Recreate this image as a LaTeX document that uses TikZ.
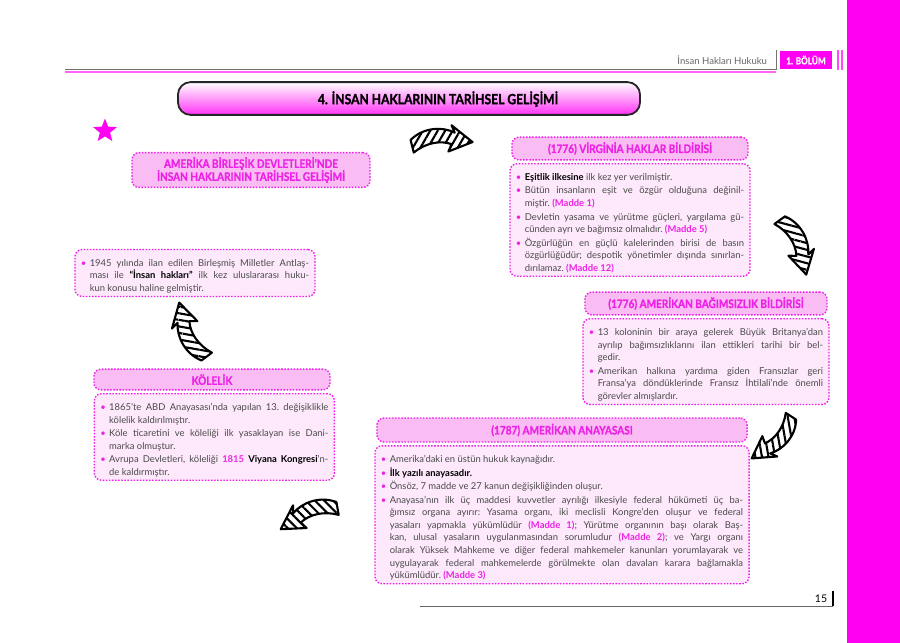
\documentclass[tikz,border=0pt]{standalone}
\usepackage{fontspec}
\setmainfont{Lato}
\newfontfamily\headfont[FakeStretch=0.86,FakeBold=1.2]{Lato}
\usetikzlibrary{positioning,patterns.meta,shapes.geometric}

\definecolor{mag}{HTML}{EE22E6}
\definecolor{magbar}{HTML}{FF00F2}
\definecolor{pinkhead}{HTML}{F9BDF4}
\definecolor{pinkbody}{HTML}{FDE9FB}
\definecolor{bodytext}{HTML}{4A4A4A}

\newcommand{\itm}{\par\noindent\llap{\makebox[0.22cm][l]{\textcolor{mag}{\textbullet}}}}
\newcommand{\mdd}[1]{\textcolor{mag}{\textbf{(Madde #1)}}}
\newcommand{\blk}[1]{\textcolor{black}{\textbf{#1}}}
\newcommand{\bodysetup}{\setlength{\parskip}{0.6pt}\setlength{\leftskip}{0.22cm}\frenchspacing\hyphenpenalty=10000\relax\tolerance=9999\relax}

\tikzset{
	headbox/.style={draw=mag, dash pattern=on 1.1pt off 1.1pt, line width=1pt, fill=pinkhead,
		rounded corners=5pt, text=mag, align=center, inner sep=1pt,
		font=\headfont\fontsize{8.3}{9.2}\selectfont\bfseries},
	bodybox/.style={draw=mag, dash pattern=on 1.1pt off 1.1pt, line width=1pt, fill=pinkbody,
		rounded corners=5pt, text=bodytext, align=justify, inner xsep=0.15cm, inner ysep=0.08cm,
		font=\fontsize{6.7}{9}\selectfont},
	hatcharrow/.pic={
		\draw[line width=1.5pt, line join=round, pattern={Lines[angle=#1,distance=4.6pt,line width=1.5pt]}]
		(-28,1) .. controls (-16,13) and (2,14) .. (14,8) -- (11,15) -- (31,-1) -- (8,-10) -- (11,-3)
		.. controls (0,1) and (-14,-2) .. (-25,-11) -- cycle;
	}
}

\begin{document}
\begin{tikzpicture}[x=0.025cm, y=0.025cm]

		\useasboundingbox (0,0) rectangle (900,-643);
		\fill[white] (0,0) rectangle (900,-643);
		\fill[magbar] (847,0) rectangle (900,-643);

		\draw[black!55, line width=0.5pt] (65,-69) -- (776,-69) -- (776,-50);
		\draw[magbar!60, line width=1pt] (65,-72) -- (776,-72);
		\draw[magbar!70, line width=1pt] (838,-50) -- (838,-70);
		\draw[magbar!70, line width=1pt] (842,-50) -- (842,-70);
		\node (pageHead) at (772,-60) [anchor=east, text=black!60, font=\fontsize{6.8}{8}\selectfont] {İnsan Hakları Hukuku};
		\node (bolum) at (806,-60) [fill=magbar, text=white, minimum width=1.3cm, minimum height=0.44cm,
		inner sep=0pt, font=\headfont\fontsize{6.8}{8}\selectfont\bfseries] {1. BÖLÜM};

		\node (titleBox) at (409,-98.5) [draw=black!85, line width=1.3pt, rounded corners=9pt,
		top color=white, bottom color=magbar!80, minimum width=11.55cm, minimum height=0.82cm] {};
		\node (title) at (438,-99) [font=\headfont\fontsize{10}{12}\selectfont\bfseries] {4. İNSAN HAKLARININ TARİHSEL GELİŞİMİ};

		\node (star) at (105,-131) [star, star points=5, star point ratio=2.3, fill=magbar, minimum size=0.62cm, inner sep=0pt] {};

		\node (usaTitle) at (251,-170) [headbox, minimum width=5.95cm, minimum height=0.87cm]
		{AMERİKA BİRLEŞİK DEVLETLERİ’NDE\\İNSAN HAKLARININ TARİHSEL GELİŞİMİ};

		\node (un1945) at (195,-273) [bodybox, text width=5.7cm] {\bodysetup
		\itm 1945 yılında ilan edilen Birleşmiş Milletler Antlaş-\linebreak ması ile \blk{“İnsan hakları”} ilk kez uluslararası huku-\linebreak kun konusu haline gelmiştir.\par};

		\node (kolelikHead) at (212,-379.5) [headbox, minimum width=5.9cm, minimum height=0.52cm] {KÖLELİK};
		\node (kolelikBody) [below=0.06cm of kolelikHead, xshift=0.06cm, bodybox, text width=5.7cm] {\bodysetup
		\itm 1865’te ABD Anayasası’nda yapılan 13. değişiklikle\linebreak kölelik kaldırılmıştır.
		\itm Köle ticaretini ve köleliği ilk yasaklayan ise Dani-\linebreak marka olmuştur.
		\itm Avrupa Devletleri, köleliği \textcolor{mag}{\textbf{1815}} \blk{Viyana Kongresi}’n-\linebreak de kaldırmıştır.\par};

		\node (virginiaHead) at (630,-148.5) [headbox, minimum width=5.9cm, minimum height=0.57cm] {(1776) VİRGİNİA HAKLAR BİLDİRİSİ};
		\node (virginiaBody) [below=0.06cm of virginiaHead, bodybox, text width=5.7cm] {\bodysetup
		\itm \blk{Eşitlik ilkesine} ilk kez yer verilmiştir.
		\itm Bütün insanların eşit ve özgür olduğuna değinil-\linebreak miştir. \mdd{1}
		\itm Devletin yasama ve yürütme güçleri, yargılama gü-\linebreak cünden ayrı ve bağımsız olmalıdır. \mdd{5}
		\itm Özgürlüğün en güçlü kalelerinden birisi de basın\linebreak özgürlüğüdür; despotik yönetimler dışında sınırlan-\linebreak dırılamaz. \mdd{12}\par};

		\node (bagimsizHead) at (706,-303.5) [headbox, minimum width=6.05cm, minimum height=0.57cm] {(1776) AMERİKAN BAĞIMSIZLIK BİLDİRİSİ};
		\node (bagimsizBody) [below=0.06cm of bagimsizHead, bodybox, text width=5.85cm] {\bodysetup
		\itm 13 koloninin bir araya gelerek Büyük Britanya’dan\linebreak ayrılıp bağımsızlıklarını ilan ettikleri tarihi bir bel-\linebreak gedir.
		\itm Amerikan halkına yardıma giden Fransızlar geri\linebreak Fransa’ya döndüklerinde Fransız İhtilali’nde önemli\linebreak görevler almışlardır.\par};

		\node (anayasaHead) at (562,-430) [headbox, minimum width=9.25cm, minimum height=0.6cm] {(1787) AMERİKAN ANAYASASI};
		\node (anayasaBody) [below=0.06cm of anayasaHead, bodybox, text width=9.05cm] {\bodysetup
		\itm Amerika’daki en üstün hukuk kaynağıdır.
		\itm \blk{İlk yazılı anayasadır.}
		\itm Önsöz, 7 madde ve 27 kanun değişikliğinden oluşur.
		\itm Anayasa’nın ilk üç maddesi kuvvetler ayrılığı ilkesiyle federal hükümeti üç ba-\linebreak ğımsız organa ayırır: Yasama organı, iki meclisli Kongre’den oluşur ve federal\linebreak yasaları yapmakla yükümlüdür \mdd{1}; Yürütme organının başı olarak Baş-\linebreak kan, ulusal yasaların uygulanmasından sorumludur \mdd{2}; ve Yargı organı\linebreak olarak Yüksek Mahkeme ve diğer federal mahkemeler kanunları yorumlayarak ve\linebreak uygulayarak federal mahkemelerde görülmekte olan davaları karara bağlamakla\linebreak yükümlüdür. \mdd{3}\par};

		\pic[scale=1.05] (arrowA) at (440,-141) {hatcharrow=60};
		\pic[scale=1.05, rotate=-68] (arrowB) at (795,-244) {hatcharrow=-15};
		\pic[scale=1.0, rotate=-137] (arrowC) at (775,-438) {hatcharrow=-80};
		\pic[scale=1.05, xscale=-1, rotate=-24] (arrowD) at (310,-515) {hatcharrow=135};
		\pic[scale=1.05, rotate=113] (arrowE) at (191,-333) {hatcharrow=170};

		\draw[black!60, line width=0.6pt] (420,-606) -- (833,-606);
		\draw[black, line width=1.3pt] (833,-591) -- (833,-606);
		\node (pageNo) at (821,-599) [font=\fontsize{7.5}{9}\selectfont] {15};

		\end{tikzpicture}
\end{document}
